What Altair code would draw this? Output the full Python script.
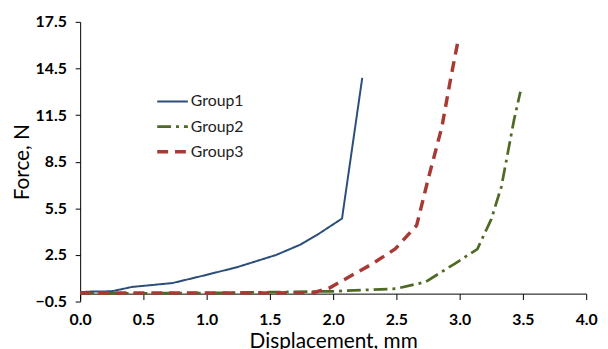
import altair as alt
import pandas as pd

g1_x = [0.0, 0.08, 0.25, 0.41, 0.73, 0.98, 1.24, 1.55, 1.74, 1.89, 2.07, 2.23]
g1_y = [0.10, 0.14, 0.16, 0.44, 0.69, 1.18, 1.71, 2.50, 3.16, 3.88, 4.84, 13.9]

g2_x = [0.0, 0.5, 1.0, 1.5, 2.0, 2.5, 2.73, 2.96, 3.14, 3.25, 3.33, 3.38, 3.43, 3.48]
g2_y = [0.02, 0.03, 0.05, 0.10, 0.16, 0.33, 0.76, 1.93, 2.88, 4.8, 6.9, 9.05, 11.2, 13.0]

g3_x = [0.0, 0.5, 1.0, 1.5, 1.85, 1.97, 2.31, 2.49, 2.66, 2.75, 2.86, 2.93, 2.99]
g3_y = [0.05, 0.05, 0.05, 0.05, 0.08, 0.37, 1.93, 2.88, 4.4, 7.35, 10.75, 13.9, 16.4]

groups = ["Group1", "Group2", "Group3"]
colors = ["#2C4E7A", "#4F6A24", "#A83A36"]
dashes = [[1, 0], [14, 5, 3, 5], [11, 7]]
widths = [2.0, 3.5, 3.5]

rows = []
for name, xs, ys in zip(groups, [g1_x, g2_x, g3_x], [g1_y, g2_y, g3_y]):
    for i, (x, y) in enumerate(zip(xs, ys)):
        rows.append({"group": name, "x": x, "y": y, "i": i})
df = pd.DataFrame(rows)

font = "Lato"

legend = alt.Legend(
    title=None, orient="none", legendX=76, legendY=64,
    symbolType="stroke", symbolSize=961, labelFontSize=16, labelFont=font,
    labelColor="#222222", labelOffset=1, rowPadding=-2,
)

chart = alt.Chart(df).mark_line(clip=False).encode(
    x=alt.X("x:Q", scale=alt.Scale(domain=[0, 4], nice=False, zero=False),
            axis=alt.Axis(title="Displacement, mm", values=[0, 0.5, 1, 1.5, 2, 2.5, 3, 3.5, 4],
                          format=".1f", offset=-8, grid=False, domainColor="black",
                          tickColor="black", tickSize=6, labelPadding=12, labelFlush=False,
                          labelFont=font, labelFontSize=16, labelFontWeight="bold",
                          labelColor="black", titleFont=font, titleFontSize=21,
                          titleFontWeight="normal", titleColor="black", titlePadding=3)),
    y=alt.Y("y:Q", scale=alt.Scale(domain=[-0.5, 17.5], nice=False, zero=False),
            axis=alt.Axis(title="Force, N", values=[-0.5, 2.5, 5.5, 8.5, 11.5, 14.5, 17.5],
                          format=".1f", grid=False, domainColor="black",
                          tickColor="black", tickSize=5, labelPadding=9, labelFlush=False,
                          labelFont=font, labelFontSize=16, labelFontWeight="bold",
                          labelColor="black", titleFont=font, titleFontSize=21,
                          titleFontWeight="normal", titleColor="black", titlePadding=3)),
    color=alt.Color("group:N", scale=alt.Scale(domain=groups, range=colors), legend=legend),
    strokeDash=alt.StrokeDash("group:N", scale=alt.Scale(domain=groups, range=dashes), legend=legend),
    strokeWidth=alt.StrokeWidth("group:N", scale=alt.Scale(domain=groups, range=widths), legend=legend),
    order="i:Q",
).properties(
    width=512, height=283,
    autosize=alt.AutoSizeParams(type="none"),
    padding={"left": 73, "top": 12, "right": 14, "bottom": 46},
).configure_view(stroke=None)

chart.save("out.html", embed_options={"renderer": "svg", "actions": False})
